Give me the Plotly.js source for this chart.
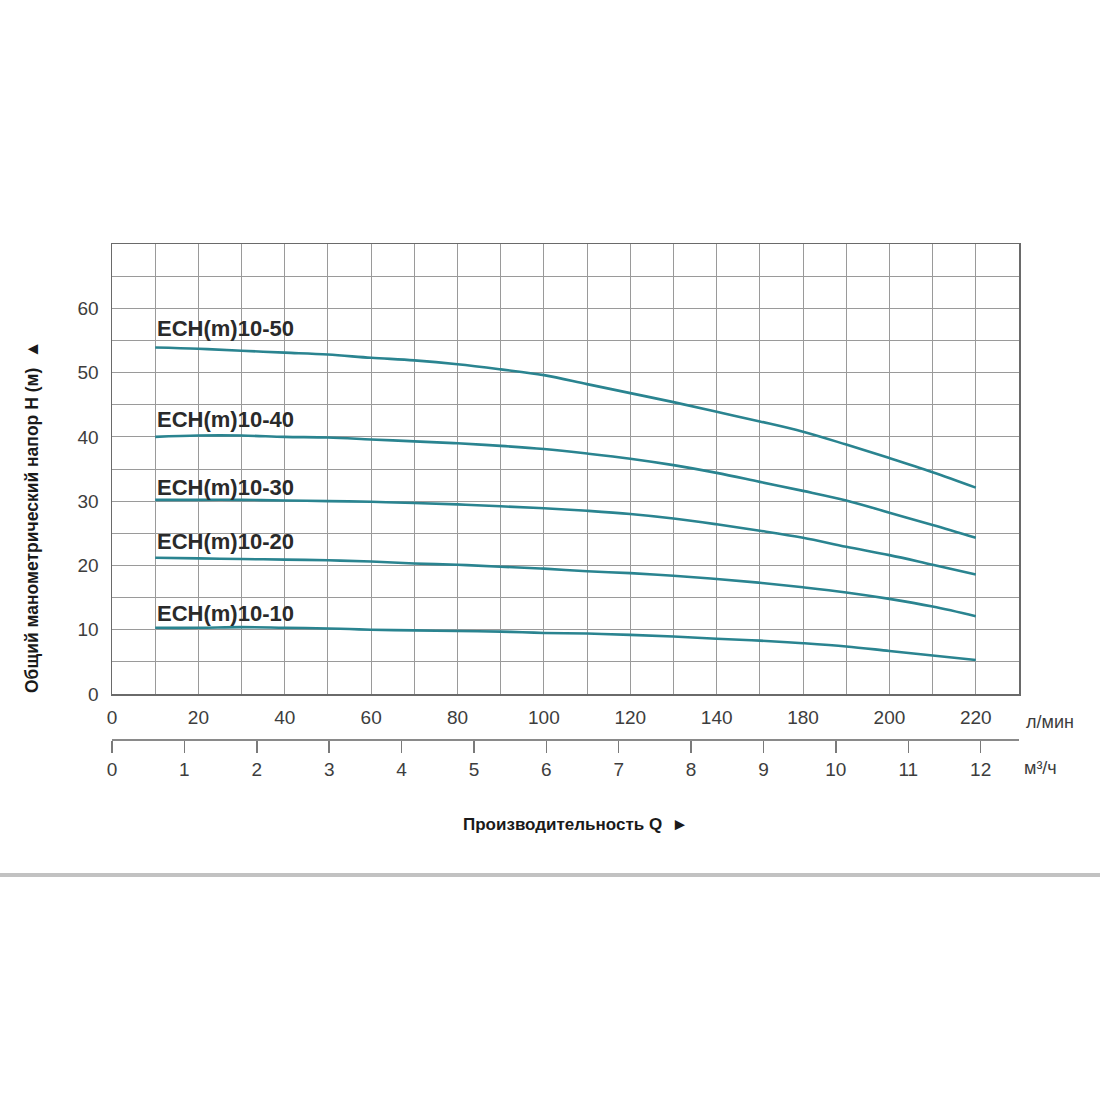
<!DOCTYPE html>
<html>
<head>
<meta charset="utf-8">
<script src="https://cdn.plot.ly/plotly-3.0.1.min.js"></script>
<style>html,body{margin:0;padding:0;background:#fff;}#chart{width:1100px;height:1100px;}</style>
</head>
<body>
<div id="chart"></div>
<script>
// Flow positions on the L/min axis (grid units)
const flowPos = [10,20,30,40,50,60,70,80,90,100,110,120,130,140,150,160,170,180,190,200];
// Head (m) per model
const head50 = [53.9,53.7,53.4,53.1,52.8,52.3,51.9,51.3,50.5,49.6,48.2,46.8,45.4,43.9,42.4,40.8,38.8,36.7,34.5,32.1];
const head40 = [40.0,40.2,40.2,40.0,39.9,39.6,39.3,39.0,38.6,38.1,37.4,36.6,35.6,34.4,33.0,31.6,30.1,28.2,26.3,24.3];
const head30 = [30.2,30.2,30.2,30.1,30.0,29.9,29.7,29.5,29.2,28.9,28.5,28.0,27.3,26.4,25.4,24.3,22.9,21.6,20.1,18.6];
const head20 = [21.2,21.1,21.0,20.9,20.8,20.6,20.3,20.1,19.8,19.5,19.1,18.8,18.4,17.9,17.3,16.6,15.8,14.8,13.6,12.1];
const head10 = [10.3,10.3,10.4,10.3,10.2,10.0,9.9,9.8,9.7,9.5,9.4,9.2,8.95,8.6,8.3,7.9,7.4,6.7,6.0,5.3];
const seriesNames = ['ECH(m)10-50','ECH(m)10-40','ECH(m)10-30','ECH(m)10-20','ECH(m)10-10'];
const labelY = [56.9,42.7,32.1,23.8,12.6];
// Tick labels
const lminTickVals = [0,20,40,60,80,100,120,140,160,180,200];
const lminTickText = ['0','20','40','60','80','100','120','140','180','200','220'];
const m3hTicks = [0,1,2,3,4,5,6,7,8,9,10,11,12];
const headTicks = [0,10,20,30,40,50,60];

const lineColor = '#2a8490';
const allHeads = [head50, head40, head30, head20, head10];
const traces = allHeads.map((h, i) => ({
  x: flowPos, y: h, type: 'scatter', mode: 'lines', name: seriesNames[i],
  line: {color: lineColor, width: 2.6, shape: 'spline', smoothing: 1.0},
  hoverinfo: 'skip', showlegend: false
}));
traces.push({x: [0, 12], y: [null, null], xaxis: 'x2', yaxis: 'y', type: 'scatter', mode: 'lines', showlegend: false, hoverinfo: 'skip'});

const font = 'Liberation Sans, Arial, sans-serif';
const tickFont = {family: font, size: 19, color: '#3d3d3d'};
const plotW = 907, plotTopPx = 244, plotBotPx = 740, plotH = plotBotPx - plotTopPx;
const px2paperX = px => (px - 112) / plotW;
const px2paperY = py => (plotBotPx - py) / plotH;

const annotations = seriesNames.map((n, i) => ({
  x: 10, y: labelY[i], xref: 'x', yref: 'y', text: n, showarrow: false,
  xanchor: 'left', yanchor: 'middle', font: {family: font, size: 22, color: '#2a2a2a', weight: 'bold'}
}));
annotations.push({x: px2paperX(1024), y: px2paperY(722), xref: 'paper', yref: 'paper', text: 'л/мин', showarrow: false, xanchor: 'left', yanchor: 'middle', font: {family: font, size: 18, color: '#3d3d3d'}});
annotations.push({x: px2paperX(1022), y: px2paperY(768), xref: 'paper', yref: 'paper', text: 'м³/ч', showarrow: false, xanchor: 'left', yanchor: 'middle', font: {family: font, size: 18, color: '#3d3d3d'}});
annotations.push({x: px2paperX(575), y: px2paperY(824), xref: 'paper', yref: 'paper', text: 'Производительность Q  ►', showarrow: false, xanchor: 'center', yanchor: 'middle', font: {family: font, size: 17, color: '#1a1a1a', weight: 'bold'}});
annotations.push({x: px2paperX(32), y: px2paperY(517), xref: 'paper', yref: 'paper', text: 'Общий манометрический напор H (м)  ▲', showarrow: false, textangle: -90, xanchor: 'center', yanchor: 'middle', font: {family: font, size: 17.5, color: '#1a1a1a', weight: 'bold'}});

const layout = {
  width: 1100, height: 1100,
  margin: {l: 112, r: 81, t: plotTopPx, b: 1100 - plotBotPx, pad: 0},
  paper_bgcolor: '#fff', plot_bgcolor: '#fff',
  showlegend: false,
  xaxis: {
    range: [0, 210], anchor: 'y', tickvals: lminTickVals, ticktext: lminTickText,
    showgrid: true, gridcolor: '#9a9a9a', gridwidth: 1,
    minor: {dtick: 10, tick0: 0, showgrid: true, gridcolor: '#9a9a9a', gridwidth: 1},
    showline: true, linecolor: '#6a6a6a', linewidth: 1.5, mirror: true,
    ticks: '', tickfont: tickFont, ticklabelstandoff: 6, zeroline: false, fixedrange: true
  },
  xaxis2: {
    range: [0, 12.53], overlaying: 'x', anchor: 'free', position: 0, side: 'bottom',
    tickvals: m3hTicks, showgrid: false, showline: true, linecolor: '#8a8a8a', linewidth: 2,
    ticks: 'outside', ticklen: 12, tickwidth: 1.5, tickcolor: '#7a7a7a',
    tickfont: tickFont, zeroline: false, fixedrange: true
  },
  yaxis: {
    range: [0, 70], domain: [(plotBotPx - 694) / plotH, 1], tickvals: headTicks,
    showgrid: true, gridcolor: '#9a9a9a', gridwidth: 1,
    minor: {dtick: 5, tick0: 0, showgrid: true, gridcolor: '#9a9a9a', gridwidth: 1},
    showline: true, linecolor: '#6a6a6a', linewidth: 1.5, mirror: true,
    ticks: '', tickfont: tickFont, ticklabelstandoff: 8, zeroline: false, fixedrange: true
  },
  annotations: annotations,
  shapes: [{type: 'line', xref: 'paper', yref: 'paper', x0: px2paperX(0), x1: px2paperX(1100), y0: px2paperY(875), y1: px2paperY(875), line: {color: '#c2c2c2', width: 4}}]
};

Plotly.newPlot('chart', traces, layout, {staticPlot: true, displayModeBar: false});
</script>
</body>
</html>
